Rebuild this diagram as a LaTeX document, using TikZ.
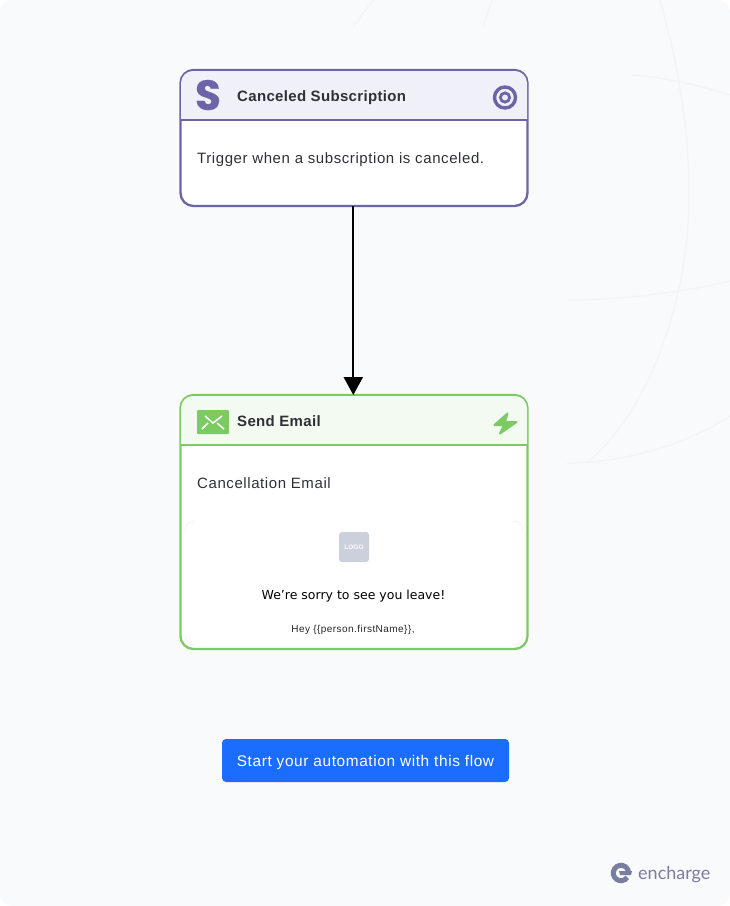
\documentclass[tikz,border=0pt]{standalone}
\usepackage{fontspec}
\setmainfont{Liberation Sans}
\newfontfamily\cardfont[LetterSpace=3.9]{Liberation Sans}
\newfontfamily\titlefont[LetterSpace=2.2]{Liberation Sans}
\newfontfamily\startfont[LetterSpace=4]{Liberation Sans}
\newfontfamily\heyfont[LetterSpace=4.5]{Liberation Sans}
\newfontfamily\mailfont{DejaVu Sans}
\newfontfamily\brandfont{Lato}
\newfontfamily\stripefont[UprightFont=* Bold, FakeBold=0.5]{Poppins}
\usetikzlibrary{arrows.meta}
\definecolor{pagebg}{HTML}{F9FAFC}
\definecolor{swirl}{HTML}{F3F4F6}
\definecolor{stripe}{HTML}{6B64A6}
\definecolor{stripehead}{HTML}{F0F0F8}
\definecolor{mailgreen}{HTML}{7BCB62}
\definecolor{mailhead}{HTML}{F3FAF1}
\definecolor{inktext}{HTML}{2F3136}
\definecolor{logogray}{HTML}{CBD0DC}
\definecolor{startblue}{HTML}{1A6DFF}
\definecolor{brandgray}{HTML}{7A7DA0}
\tikzset{
  cardbox/.style={draw, fill=white, line width=2.3pt, rounded corners=13pt, outer sep=0pt, inner sep=0pt, minimum width=347pt},
  cardtitle/.style={anchor=base west, inner sep=0pt, text=inktext, font=\titlefont\bfseries\fontsize{15}{18}\selectfont},
  cardtext/.style={anchor=base west, inner sep=0pt, text=inktext, font=\cardfont\fontsize{15}{18}\selectfont},
  swirlline/.style={swirl, line width=1.4pt},
  cornerline/.style={black!7, line width=0.5pt}
}
\begin{document}
\begin{tikzpicture}[x=1pt, y=-1pt]
  \useasboundingbox (0,0) rectangle (730,906);
  % Page
  \fill[white] (0,0) rectangle (730,906);
  \fill[pagebg, rounded corners=12pt] (0,0) rectangle (730,906);

  % Background curves
  \draw[swirlline] (660,0) .. controls (680,70) and (690,140) .. (689,200) .. controls (688,300) and (650,410) .. (587,463);
  \draw[swirlline] (633,75) .. controls (665,77) and (700,86) .. (730,95);
  \draw[swirlline] (568,300) .. controls (620,300) and (680,293) .. (730,281);
  \draw[swirlline] (567,463) .. controls (630,463) and (690,442) .. (730,416);
  \draw[swirlline] (373,0) -- (353,27);
  \draw[swirlline] (492,0) -- (483,27);

  % Trigger card
  \node[cardbox, draw=stripe, minimum height=136pt] (trigger) at (354,138) {};
  \fill[stripehead] (181,120) [rounded corners=12pt] -- (181,71) -- (527,71) [sharp corners] -- (527,120) -- cycle;
  \draw[stripe, line width=2.3pt] (trigger.west |- 0,120) -- (trigger.east |- 0,120);
  \node[inner sep=0pt, text=stripe, font=\stripefont\fontsize{42}{42}\selectfont] (stripeS) at (208,95) {S};
  \node[cardtitle] (triggerTitle) at (237,101) {Canceled Subscription};
  \node[cardtext] (triggerText) at (197,163) {Trigger when a subscription is canceled.};
  % Target icon
  \draw[stripe, line width=3.4pt] (505,97.5) circle (10.5pt);
  \draw[stripe, line width=2.8pt] (505,97.5) circle (4.6pt);

  % Email card
  \node[cardbox, draw=mailgreen, minimum height=254pt] (email) at (354,522) {};
  \fill[mailhead] (181,445) [rounded corners=12pt] -- (181,396) -- (527,396) [sharp corners] -- (527,445) -- cycle;
  \draw[mailgreen, line width=2.3pt] (email.west |- 0,445) -- (email.east |- 0,445);
  \fill[mailgreen, rounded corners=1pt] (197,410) rectangle (229,434);
  \draw[white, line width=1.5pt] (205,416) -- (213,423) -- (222,416);
  \draw[white, line width=1.5pt] (202,429) -- (208,423);
  \draw[white, line width=1.5pt] (224,429) -- (217,423);
  \node[cardtitle] (emailTitle) at (237,426) {Send Email};
  \node[cardtext] (emailText) at (197,488) {Cancellation Email};
  % Bolt icon
  \fill[mailgreen, draw=mailgreen, line width=2pt, line join=round] (507.5,413.5) -- (494.5,425) -- (504,425) -- (500,433.5) -- (516.5,422) -- (505,422) -- cycle;

  % Email preview corners
  \draw[cornerline] (185,531) .. controls (185,525) and (189,521) .. (195,521);
  \draw[cornerline] (513,521) .. controls (519,521) and (523,525) .. (523,531);
  \draw[cornerline] (185,635) .. controls (185,641) and (189,645) .. (195,645);
  \draw[cornerline] (513,645) .. controls (519,645) and (523,641) .. (523,635);
  \node[fill=logogray, rounded corners=3pt, inner sep=0pt, minimum size=30pt, text=white, font=\bfseries\fontsize{6.5}{8}\selectfont] (logoBox) at (354,547) {LOGO};
  \node[anchor=base, inner sep=0pt, text=black, font=\mailfont\fontsize{12.5}{15}\selectfont] (sorryText) at (353.5,599) {We’re sorry to see you leave!};
  \node[anchor=base, inner sep=0pt, text=black!85, font=\heyfont\fontsize{10}{12}\selectfont] (heyText) at (353,632) {Hey \{\{person.firstName\}\},};

  % Connector
  \draw[-{Triangle[width=19pt,length=18pt]}, black, line width=2.3pt] ([xshift=-0.7pt]trigger.south) -- ([xshift=-0.7pt]email.north);

  % Button
  \node[fill=startblue, rounded corners=4pt, inner sep=0pt, minimum width=287pt, minimum height=43pt, text height=12pt, text depth=0pt, text=white, font=\startfont\fontsize{15.4}{18}\selectfont] (startBtn) at (365.5,760.5) {Start your automation with this flow};

  % Brand mark
  \draw[brandgray, line width=5pt] (627.3,877.4) arc[start angle=-35, end angle=-360, radius=7.7pt];
  \fill[brandgray] (619,871) -- (632,871) -- (631,875) -- (620,875) -- cycle;
  \node[anchor=base west, inner sep=0pt, text=brandgray, font=\brandfont\fontsize{18}{22}\selectfont] (brandText) at (638,879) {encharge};
\end{tikzpicture}
\end{document}
